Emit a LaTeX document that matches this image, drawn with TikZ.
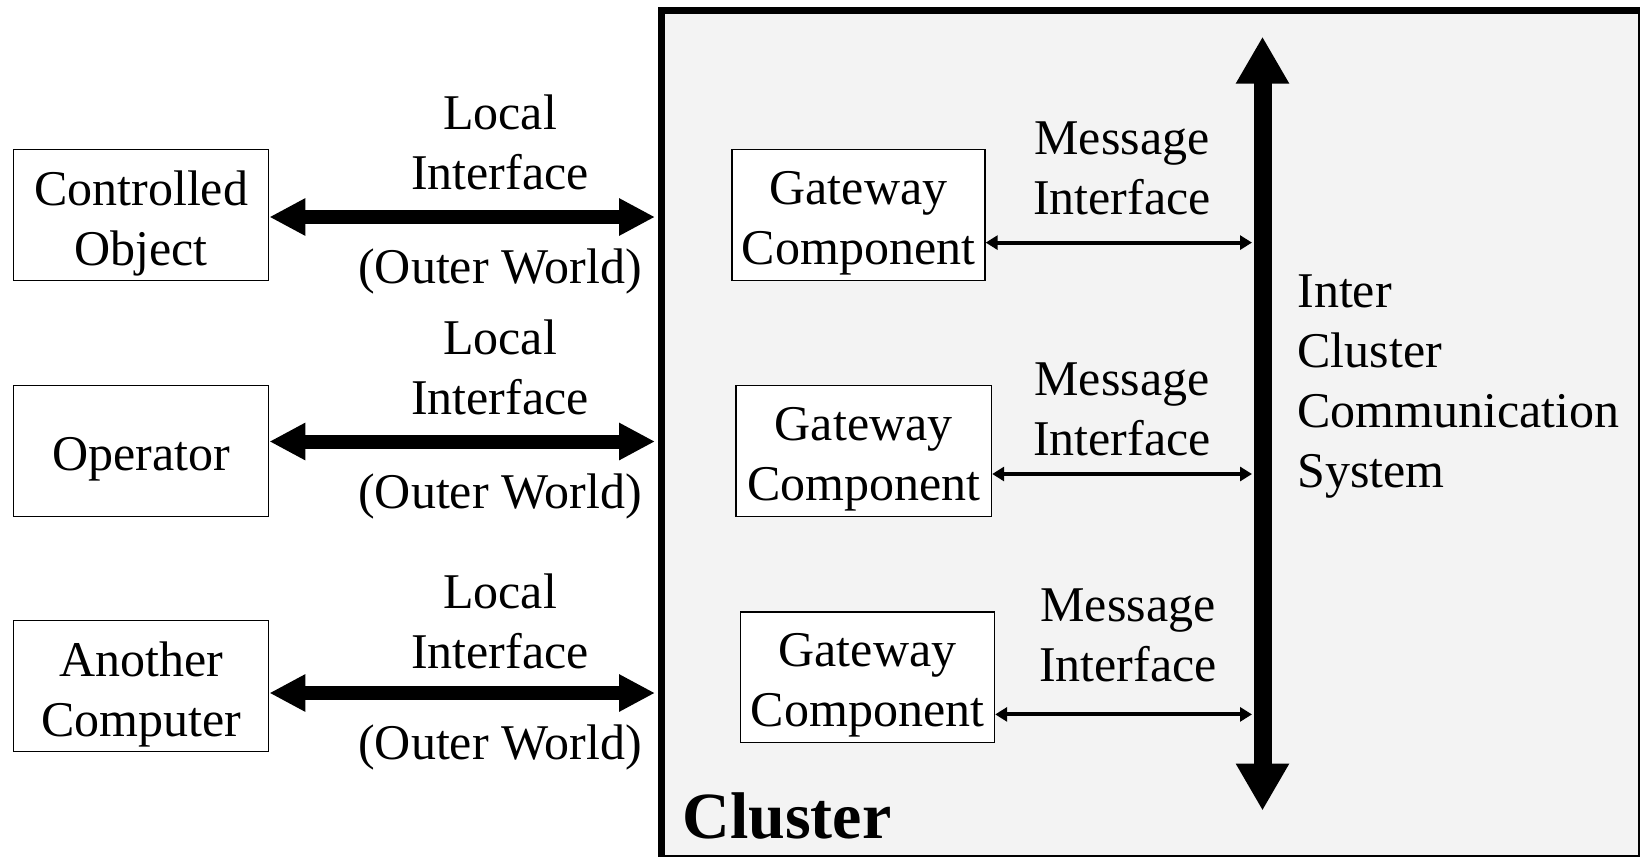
\documentclass[tikz,border=0pt]{standalone}
\usepackage{fontspec}
\setmainfont{Liberation Serif}
\usetikzlibrary{arrows.meta,calc}
\definecolor{clusterbg}{RGB}{243,243,243}
\tikzset{
  txt/.style={font=\fontsize{25}{30}\selectfont},
  box/.style={draw, line width=0.7pt, fill=white, inner sep=0pt,
    minimum height=65.4pt},
  lbl/.style={txt, align=center, inner sep=0pt},
  bigarrow/.style={line width=7pt,
    {Triangle[length=18pt,width=17.5pt]}-{Triangle[length=18pt,width=17.5pt]}},
  busarrow/.style={line width=9pt,
    {Triangle[length=23.5pt,width=25pt]}-{Triangle[length=23.5pt,width=25pt]}},
  msgarrow/.style={line width=2pt,
    {Triangle[length=6pt,width=7pt]}-{Triangle[length=6pt,width=7pt]}}
}
\begin{document}
\begin{tikzpicture}[x=0.5pt,y=-0.5pt]
\useasboundingbox (0,0) rectangle (1640,857);

% cluster frame
\fill[clusterbg] (661.5,10) rectangle (1645,862);
\draw[line width=3.5pt] (661.5,10) rectangle (1641.5,858.5);
\node[anchor=west, inner sep=0pt, font=\fontsize{33}{40}\selectfont\bfseries]
  (cluster) at (682,816) {Cluster};

% outer world
\node[box, minimum width=127.5pt] (co) at (141.2,215) {};
\node[box, minimum width=127.5pt] (op) at (141.2,451) {};
\node[box, minimum width=127.5pt] (ac) at (141.2,686) {};
\node[lbl] (cot) at ($(co)+(0,8.4)$) {Controlled\\Object};
\node[lbl] (opt) at ($(op)+(0,8.4)$) {Operator};
\node[lbl] (act) at ($(ac)+(0,8.4)$) {Another\\Computer};

\coordinate (edge) at (655,0);
\coordinate (a1) at ($(co.east)+(0,2)$);
\coordinate (a2) at ($(op.east)+(0,-9.5)$);
\coordinate (a3) at ($(ac.east)+(0,7)$);
\draw[bigarrow] (a1) -- (a1 -| edge);
\draw[bigarrow] (a2) -- (a2 -| edge);
\draw[bigarrow] (a3) -- (a3 -| edge);

\node[lbl] (li1) at (500,142.8) {Local\\Interface};
\node[lbl] (ow1) at (500,271.2) {(Outer World)};
\node[lbl] (li2) at (500,367.6) {Local\\Interface};
\node[lbl] (ow2) at (500,496) {(Outer World)};
\node[lbl] (li3) at (500,621.3) {Local\\Interface};
\node[lbl] (ow3) at (500,747.1) {(Outer World)};

% gateway components
\node[box, minimum width=126.5pt] (gw1) at (858.5,215) {};
\node[box, minimum width=127.8pt] (gw2) at (863.7,451) {};
\node[box, minimum width=127pt]   (gw3) at (867.5,677.2) {};
\node[lbl] (gw1t) at ($(gw1)+(0,8.4)$) {Gateway\\Component};
\node[lbl] (gw2t) at ($(gw2)+(0,8.4)$) {Gateway\\Component};
\node[lbl] (gw3t) at ($(gw3)+(0,8.4)$) {Gateway\\Component};

% inter cluster communication system
\coordinate (bustop) at (1262.5,36.6);
\coordinate (busbot) at (1262.5,810.6);
\draw[busarrow] (bustop) -- (busbot);
\node[txt, anchor=west, align=left, inner sep=0pt] (iccs) at (1297,387)
  {Inter\\Cluster\\Communication\\System};

\coordinate (busL) at (1252,0);
\coordinate (m1) at ($(gw1.east)+(0,27.6)$);
\coordinate (m2) at ($(gw2.east)+(0,23)$);
\coordinate (m3) at ($(gw3.east)+(0,37.2)$);
\draw[msgarrow] (m1) -- (m1 -| busL);
\draw[msgarrow] (m2) -- (m2 -| busL);
\draw[msgarrow] (m3) -- (m3 -| busL);

\node[lbl] (mi1) at (1122,168.4) {Message\\Interface};
\node[lbl] (mi2) at (1122,409) {Message\\Interface};
\node[lbl] (mi3) at (1128,635) {Message\\Interface};
\end{tikzpicture}
\end{document}
